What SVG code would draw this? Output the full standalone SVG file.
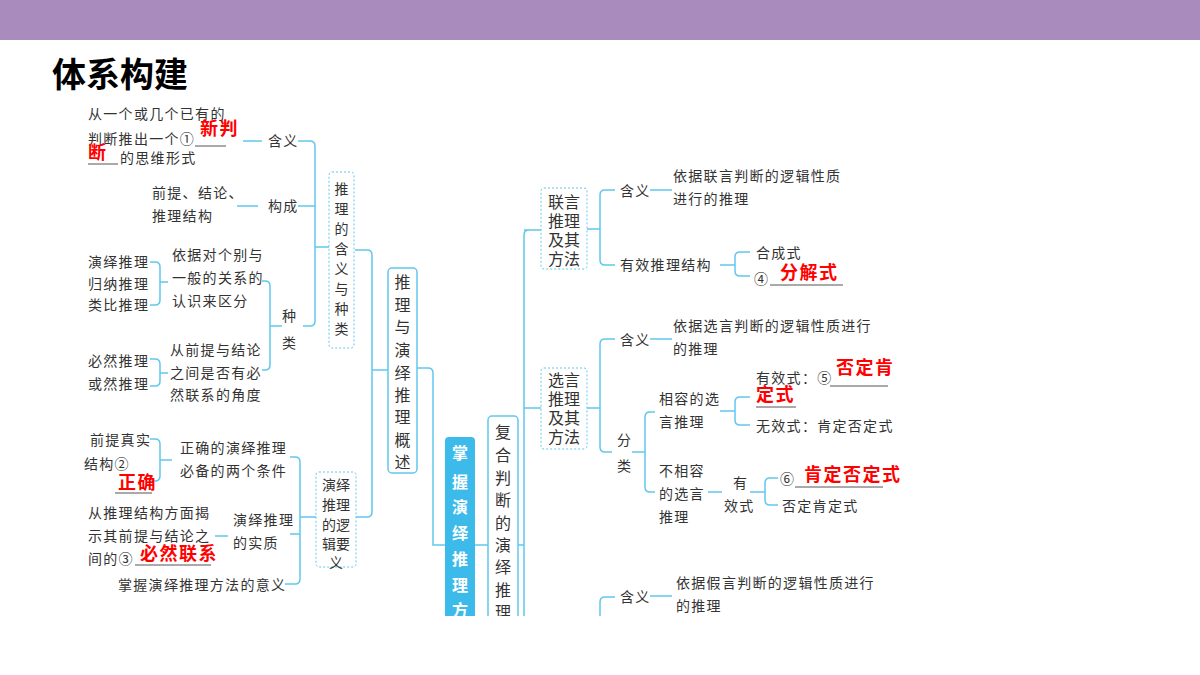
<svg xmlns="http://www.w3.org/2000/svg" width="1200" height="675" viewBox="0 0 1200 675">
<style>
.t{font-family:"Noto Sans CJK SC","Noto Sans",sans-serif;font-size:14px;fill:#333;letter-spacing:1.3px}
.b{font-family:"Noto Sans CJK SC","Noto Sans",sans-serif;font-size:16px;fill:#333}
.r{font-family:"Noto Sans CJK SC",sans-serif;font-size:18px;font-weight:bold;fill:#f00;letter-spacing:1.5px}
.w{font-family:"Noto Sans CJK SC",sans-serif;font-size:16px;font-weight:bold;fill:#fff}
.c{fill:none;stroke:#62c7ee;stroke-width:1.5}
.u{stroke:#555;stroke-width:1}
.d{fill:#fff;stroke:#62c7ee;stroke-width:1;stroke-dasharray:2 2}
.s{fill:#fff;stroke:#62c7ee;stroke-width:1.5}
</style>
<defs><clipPath id="cp"><rect x="0" y="0" width="1200" height="616"/></clipPath></defs>
<rect x="0" y="0" width="1200" height="675" fill="#fff"/>
<rect x="0" y="0" width="1200" height="40" fill="#a98bbd"/>
<text x="52" y="87" style="font-family:'Noto Sans CJK SC',sans-serif;font-size:34px;font-weight:bold;fill:#000">体系构建</text>
<g clip-path="url(#cp)">
<g id="connectors">
<path class="c" d="M243 141H262M298 141H310Q315 141 315 146V321Q315 326 310 326H303M237 206H258M298 206H315M315 247H330"/>
<path class="c" d="M355 250H367Q372 250 372 255V512Q372 517 367 517H356M372 370H388"/>
<path class="c" d="M417 368H428Q433 368 433 373V545H445M475 545H488M518 545H524"/>
<path class="c" d="M262 281H265Q270 281 270 286V365Q270 370 265 370H262M270 326H282"/>
<path class="c" d="M150 262H155Q160 262 160 267V300Q160 305 155 305H150M160 282H168"/>
<path class="c" d="M150 359H155Q160 359 160 364V381Q160 386 155 386H150M160 373H168"/>
<path class="c" d="M290 457H295Q300 457 300 462V579Q300 584 295 584H285M300 517H316M290 534H300M215 536H228"/>
<path class="c" d="M150 439H155Q160 439 160 444V476Q160 481 155 481H150M160 460H172"/>
<path class="c" d="M529 230Q524 230 524 235V640M524 230H541M524 408H541"/>
<path class="c" d="M587 229H600M615 190H605Q600 190 600 195V260Q600 265 605 265H615M650 190H672"/>
<path class="c" d="M720 265H735M750 252H740Q735 252 735 257V271Q735 276 740 276H750"/>
<path class="c" d="M587 408H600M615 339H605Q600 339 600 344V447Q600 452 605 452H612M650 339H672M632 452H645M655 412H650Q645 412 645 417V487Q645 492 650 492H655"/>
<path class="c" d="M720 411H735M750 397H740Q735 397 735 402V420Q735 425 740 425H750"/>
<path class="c" d="M708 492H722M750 492H765M778 478H770Q765 478 765 483V500Q765 505 770 505H778"/>
<path class="c" d="M615 597H605Q600 597 600 602V640M650 596H672"/>
</g>
<g id="n1"><text class="t" x="88" y="119">从一个或几个已有的</text><text class="t" x="88" y="144">判断推出一个①</text><line class="u" x1="195" y1="146" x2="226" y2="146"/><text class="r" x="200" y="135">新判</text><text class="r" x="88" y="159">断</text><line class="u" x1="88" y1="164" x2="118" y2="164"/><text class="t" x="120" y="163">的思维形式</text></g>
<g id="n2"><text class="t" x="268" y="146">含义</text></g>
<g id="n3"><text class="t" x="152" y="198">前提、结论、</text><text class="t" x="152" y="221">推理结构</text><text class="t" x="268" y="211">构成</text></g>
<g id="n4"><rect class="d" x="329" y="172" width="25" height="176" rx="3"/><text class="t" text-anchor="middle" style="letter-spacing:0"><tspan x="341.5" y="194">推</tspan><tspan x="341.5" y="214">理</tspan><tspan x="341.5" y="234">的</tspan><tspan x="341.5" y="254">含</tspan><tspan x="341.5" y="274">义</tspan><tspan x="341.5" y="294">与</tspan><tspan x="341.5" y="314">种</tspan><tspan x="341.5" y="334">类</tspan></text></g>
<g id="n5"><rect class="s" x="388" y="268" width="29" height="205" rx="4"/><text class="b" text-anchor="middle"><tspan x="402.5" y="288">推</tspan><tspan x="402.5" y="311">理</tspan><tspan x="402.5" y="333">与</tspan><tspan x="402.5" y="356">演</tspan><tspan x="402.5" y="379">绎</tspan><tspan x="402.5" y="401">推</tspan><tspan x="402.5" y="423">理</tspan><tspan x="402.5" y="446">概</tspan><tspan x="402.5" y="468">述</tspan></text></g>
<g id="n6"><text class="t" text-anchor="middle" style="letter-spacing:0"><tspan x="289" y="321">种</tspan><tspan x="289" y="348">类</tspan></text></g>
<g id="n7"><text class="t" x="172" y="260">依据对个别与</text><text class="t" x="172" y="283">一般的关系的</text><text class="t" x="172" y="306">认识来区分</text><text class="t" x="88" y="267">演绎推理</text><text class="t" x="88" y="289">归纳推理</text><text class="t" x="88" y="310">类比推理</text></g>
<g id="n8"><text class="t" x="170" y="355">从前提与结论</text><text class="t" x="170" y="378">之间是否有必</text><text class="t" x="170" y="400">然联系的角度</text><text class="t" x="88" y="366">必然推理</text><text class="t" x="88" y="389">或然推理</text></g>
<g id="n9"><rect class="d" x="316" y="472" width="40" height="95" rx="3"/><text class="t" text-anchor="middle" style="letter-spacing:0"><tspan x="336" y="490">演绎</tspan><tspan x="336" y="510">推理</tspan><tspan x="336" y="530">的逻</tspan><tspan x="336" y="549">辑要</tspan><tspan x="336" y="568">义</tspan></text></g>
<g id="n10"><text class="t" x="180" y="453">正确的演绎推理</text><text class="t" x="180" y="476">必备的两个条件</text><text class="t" x="90" y="445">前提真实</text><text class="t" x="84" y="469">结构②</text><text class="r" x="118" y="489">正确</text><line class="u" x1="115" y1="493" x2="152" y2="493"/></g>
<g id="n11"><text class="t" x="88" y="518">从推理结构方面揭</text><text class="t" x="88" y="541">示其前提与结论之</text><text class="t" x="88" y="564">间的③</text><text class="r" x="140" y="560">必然联系</text><line class="u" x1="135" y1="565" x2="211" y2="565"/><text class="t" x="233" y="525">演绎推理</text><text class="t" x="233" y="548">的实质</text></g>
<g id="n12"><text class="t" x="118" y="590">掌握演绎推理方法的意义</text></g>
<g id="n13"><rect x="445" y="437" width="30" height="220" rx="4" fill="#3cbbea"/><text class="w" text-anchor="middle"><tspan x="460" y="459">掌</tspan><tspan x="460" y="488">握</tspan><tspan x="460" y="513">演</tspan><tspan x="460" y="539">绎</tspan><tspan x="460" y="565">推</tspan><tspan x="460" y="591">理</tspan><tspan x="460" y="616">方</tspan></text></g>
<g id="n14"><rect class="s" x="488" y="416" width="30" height="240" rx="4"/><text class="b" text-anchor="middle"><tspan x="503" y="438">复</tspan><tspan x="503" y="461">合</tspan><tspan x="503" y="484">判</tspan><tspan x="503" y="506">断</tspan><tspan x="503" y="529">的</tspan><tspan x="503" y="551">演</tspan><tspan x="503" y="573">绎</tspan><tspan x="503" y="596">推</tspan><tspan x="503" y="618">理</tspan></text></g>
<g id="n15"><rect class="d" x="541" y="188" width="46" height="81" rx="3"/><text class="b" text-anchor="middle"><tspan x="564" y="208">联言</tspan><tspan x="564" y="227">推理</tspan><tspan x="564" y="246">及其</tspan><tspan x="564" y="265">方法</tspan></text></g>
<g id="n16"><text class="t" x="620" y="196">含义</text><text class="t" x="673" y="181">依据联言判断的逻辑性质</text><text class="t" x="673" y="204">进行的推理</text></g>
<g id="n17"><text class="t" x="620" y="270">有效推理结构</text><text class="t" x="756" y="258">合成式</text><text class="t" x="754" y="284">④</text><text class="r" x="780" y="279">分解式</text><line class="u" x1="770" y1="285" x2="843" y2="285"/></g>
<g id="n18"><rect class="d" x="541" y="368" width="46" height="81" rx="3"/><text class="b" text-anchor="middle"><tspan x="564" y="386">选言</tspan><tspan x="564" y="405">推理</tspan><tspan x="564" y="424">及其</tspan><tspan x="564" y="443">方法</tspan></text></g>
<g id="n19"><text class="t" x="620" y="345">含义</text><text class="t" x="673" y="331">依据选言判断的逻辑性质进行</text><text class="t" x="673" y="354">的推理</text></g>
<g id="n20"><text class="t" text-anchor="middle" style="letter-spacing:0"><tspan x="624" y="445">分</tspan><tspan x="624" y="471">类</tspan></text></g>
<g id="n21"><text class="t" x="756" y="383">有效式：⑤</text><line class="u" x1="830" y1="386" x2="888" y2="386"/><text class="r" x="836" y="374">否定肯</text><text class="r" x="756" y="401">定式</text><line class="u" x1="756" y1="407" x2="796" y2="407"/><text class="t" x="756" y="431">无效式：肯定否定式</text><text class="t" x="659" y="404">相容的选</text><text class="t" x="659" y="427">言推理</text></g>
<g id="n22"><text class="t" x="659" y="476">不相容</text><text class="t" x="659" y="499">的选言</text><text class="t" x="659" y="522">推理</text><text class="t" x="733" y="488">有</text><text class="t" x="724" y="511">效式</text><text class="t" x="780" y="484">⑥</text><text class="r" x="804" y="481">肯定否定式</text><line class="u" x1="795" y1="487" x2="883" y2="487"/><text class="t" x="782" y="511">否定肯定式</text></g>
<g id="n23"><text class="t" x="620" y="602">含义</text><text class="t" x="676" y="588">依据假言判断的逻辑性质进行</text><text class="t" x="676" y="611">的推理</text></g>
</g>
</svg>
